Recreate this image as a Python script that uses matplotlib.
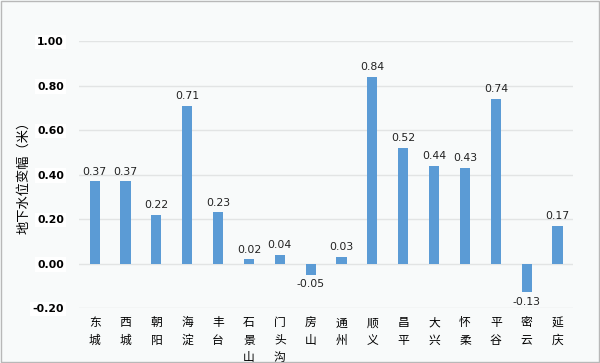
import numpy as np
import matplotlib.pyplot as plt

plt.rcParams['font.family'] = ['Noto Sans CJK SC', 'DejaVu Sans']

# 数据
districts = ["东城", "西城", "朝阳", "海淀", "丰台", "石景山", "门头沟", "房山",
             "通州", "顺义", "昌平", "大兴", "怀柔", "平谷", "密云", "延庆"]
changes = [0.37, 0.37, 0.22, 0.71, 0.23, 0.02, 0.04, -0.05,
           0.03, 0.84, 0.52, 0.44, 0.43, 0.74, -0.13, 0.17]
yticks = [-0.20, 0.00, 0.20, 0.40, 0.60, 0.80, 1.00]

bg = '#F8FAFA'
fig = plt.figure(figsize=(6, 3.63), dpi=100, facecolor=bg)
ax = fig.add_axes([0.132, 0.1515, 0.823, 0.7355], facecolor=bg)

x = np.arange(len(districts))
bars = ax.bar(x, changes, width=0.33, color='#5B9BD5', zorder=3)

for xi, v in zip(x, changes):
    if v >= 0:
        ax.text(xi, v + 0.02, f"{v:.2f}", ha='center', va='bottom',
                fontsize=7.8, family='DejaVu Sans', color='#222222')
    else:
        ax.text(xi, v - 0.02, f"{v:.2f}", ha='center', va='top',
                fontsize=7.8, family='DejaVu Sans', color='#222222')

ax.set_xlim(-0.5, len(districts) - 0.5)
ax.set_ylim(-0.2, 1.0)
ax.set_yticks(yticks)
ax.set_yticklabels([f"{t:.2f}" for t in yticks], fontsize=7.8,
                   fontweight='bold', family='DejaVu Sans')
for lbl in ax.get_yticklabels():
    lbl.set_bbox(dict(facecolor='white', edgecolor='none', pad=1.5))
ax.yaxis.grid(True, color='#E2E4E4', linewidth=1, zorder=0)

ax.set_xticks(x)
ax.set_xticklabels(["\n".join(d) for d in districts], fontsize=8.5,
                   linespacing=1.45, va='top')
ax.tick_params(axis='both', length=0)
ax.tick_params(axis='x', pad=6)
ax.tick_params(axis='y', pad=11)

for s in ax.spines.values():
    s.set_visible(False)

ax.set_ylabel("地下水位变幅（米）", fontsize=9.5)
ax.yaxis.set_label_coords(-0.099, 0.5)

# 外框
fig.patches.append(plt.Rectangle((0.002, 0.003), 0.996, 0.994, transform=fig.transFigure,
                                 fill=False, edgecolor='#B8B8B8', linewidth=1))

fig.savefig("out.png", dpi=100, facecolor=bg)
